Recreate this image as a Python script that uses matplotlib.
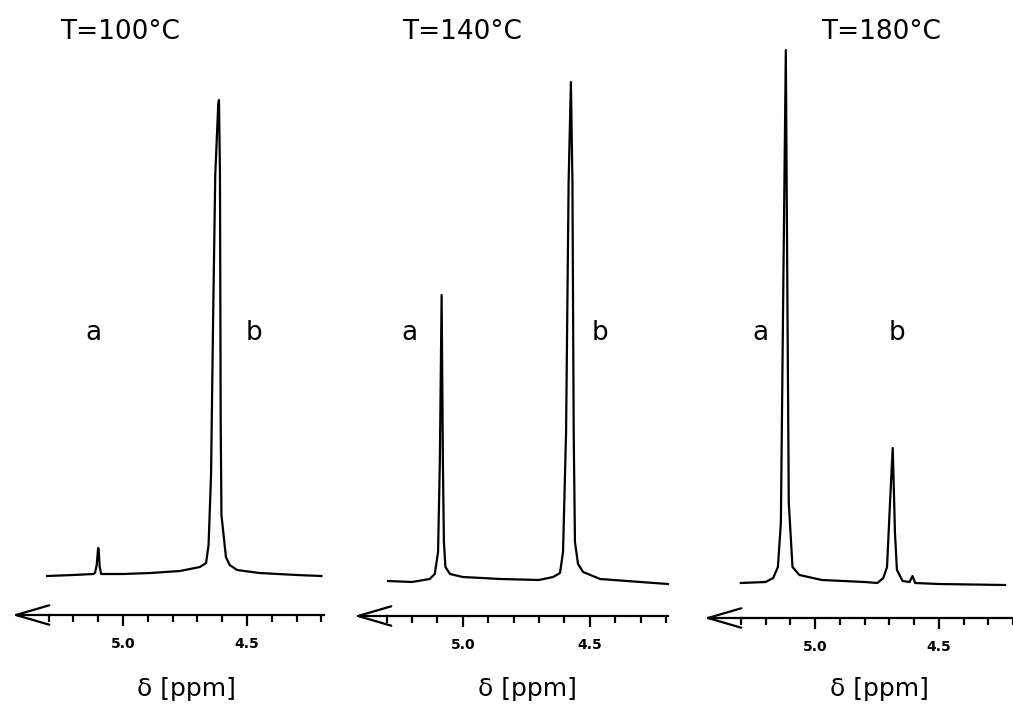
import numpy as np
import matplotlib.pyplot as plt

# chemical shift (ppm) and intensity (a.u., baseline = 0)
ppm_100 = [5.306, 5.20, 5.12, 5.113, 5.106, 5.101, 5.100, 5.098, 5.094, 5.088,
           5.00, 4.89, 4.77, 4.69, 4.665, 4.655, 4.645, 4.637, 4.628, 4.616,
           4.613, 4.609, 4.606, 4.603, 4.585, 4.57, 4.54, 4.45, 4.30, 4.20]
int_100 = [-1, 0, 1, 2, 10, 25, 27, 25, 8, 1,
           1, 2, 4, 8, 12, 30, 100, 250, 400, 470,
           475, 400, 150, 60, 18, 10, 5, 2, 0, -1]

ppm_140 = [5.294, 5.20, 5.13, 5.11, 5.097, 5.09, 5.083, 5.078, 5.074, 5.068,
           5.05, 5.00, 4.85, 4.70, 4.644, 4.617, 4.605, 4.593, 4.583, 4.574,
           4.568, 4.563, 4.558, 4.546, 4.526, 4.459, 4.30, 4.192]
int_140 = [1, 0, 3, 8, 30, 120, 287, 120, 40, 15,
           8, 5, 3, 2, 5, 9, 30, 150, 400, 500,
           400, 150, 40, 18, 10, 3, 0, -2]

ppm_180 = [5.30, 5.20, 5.169, 5.15, 5.138, 5.128, 5.118, 5.112, 5.106, 5.091,
           5.063, 4.972, 4.80, 4.748, 4.724, 4.709, 4.697, 4.686, 4.680, 4.677,
           4.669, 4.646, 4.618, 4.606, 4.595, 4.50, 4.232]
int_180 = [0, 1, 5, 16, 60, 300, 533, 300, 80, 16,
           8, 3, 1, 0, 5, 16, 80, 135, 80, 50,
           13, 2, 1, 7, 0, -1, -2]

titles = ["T=100°C", "T=140°C", "T=180°C"]
label_ppm = [(5.12, 4.47), (5.21, 4.46), (5.22, 4.67)]

spectra = [(ppm_100, int_100), (ppm_140, int_140), (ppm_180, int_180)]

# layout in pixels: axes left/right, x of 5.0 ppm, px per ppm, baseline y, axis y
panels = [
    dict(left=10, right=325, x5=123.0, scale=248.0, base=575, axis=615, tx=120, bx=186),
    dict(left=352, right=672, x5=462.7, scale=254.0, base=582, axis=616, tx=462, bx=527),
    dict(left=702, right=1013, x5=818.0, scale=254.0, base=583, axis=618, tx=881, bx=879),
]

W, H = 1013, 708
fig = plt.figure(figsize=(W / 100, H / 100), dpi=100)
fig.patch.set_facecolor("white")

minor = np.round(np.arange(4.2, 5.31, 0.1), 1)

for i, p in enumerate(panels):
    ax = fig.add_axes([p["left"] / W, 0, (p["right"] - p["left"]) / W, 1])
    ax.set_xlim(5.0 + (p["x5"] - p["left"]) / p["scale"],
                5.0 - (p["right"] - p["x5"]) / p["scale"])
    ax.set_ylim(-(H - p["base"]), p["base"])
    ax.patch.set_visible(False)

    x, y = spectra[i]
    ax.plot(x, y, color="black", lw=1.6, solid_joinstyle="round")

    for s in ["top", "left", "right"]:
        ax.spines[s].set_visible(False)
    axis_y = -(p["axis"] - p["base"])
    sp = ax.spines["bottom"]
    sp.set_position(("data", axis_y))
    sp.set_bounds(4.19, 5.3)
    sp.set_linewidth(1.6)
    tip = 5.0 + (p["x5"] - (p["left"] + 2)) / p["scale"]
    ax.annotate("", xy=(tip, axis_y), xytext=(5.29, axis_y),
                arrowprops=dict(arrowstyle="->,head_length=2.4,head_width=0.7",
                                lw=1.6, color="black", shrinkA=0, shrinkB=0))

    ax.set_xticks([5.0, 4.5])
    ax.set_xticklabels(["5.0", "4.5"], fontsize=10, fontweight="bold")
    ax.set_xticks(minor, minor=True)
    ax.tick_params(axis="x", which="major", direction="out", length=8, width=1.6, pad=8)
    ax.tick_params(axis="x", which="minor", direction="out", length=5, width=1.6)
    ax.set_yticks([])

    fig.text(p["tx"] / W, 1 - 32 / H, titles[i], ha="center", va="center", fontsize=19)
    fig.text(p["bx"] / W, 1 - 689 / H, "δ [ppm]", ha="center", va="center", fontsize=18)

    la, lb = label_ppm[i]
    ax.text(la, p["base"] - 333, "a", ha="center", va="center", fontsize=19)
    ax.text(lb, p["base"] - 333, "b", ha="center", va="center", fontsize=19)

fig.savefig("out.png", dpi=100, facecolor="white")
